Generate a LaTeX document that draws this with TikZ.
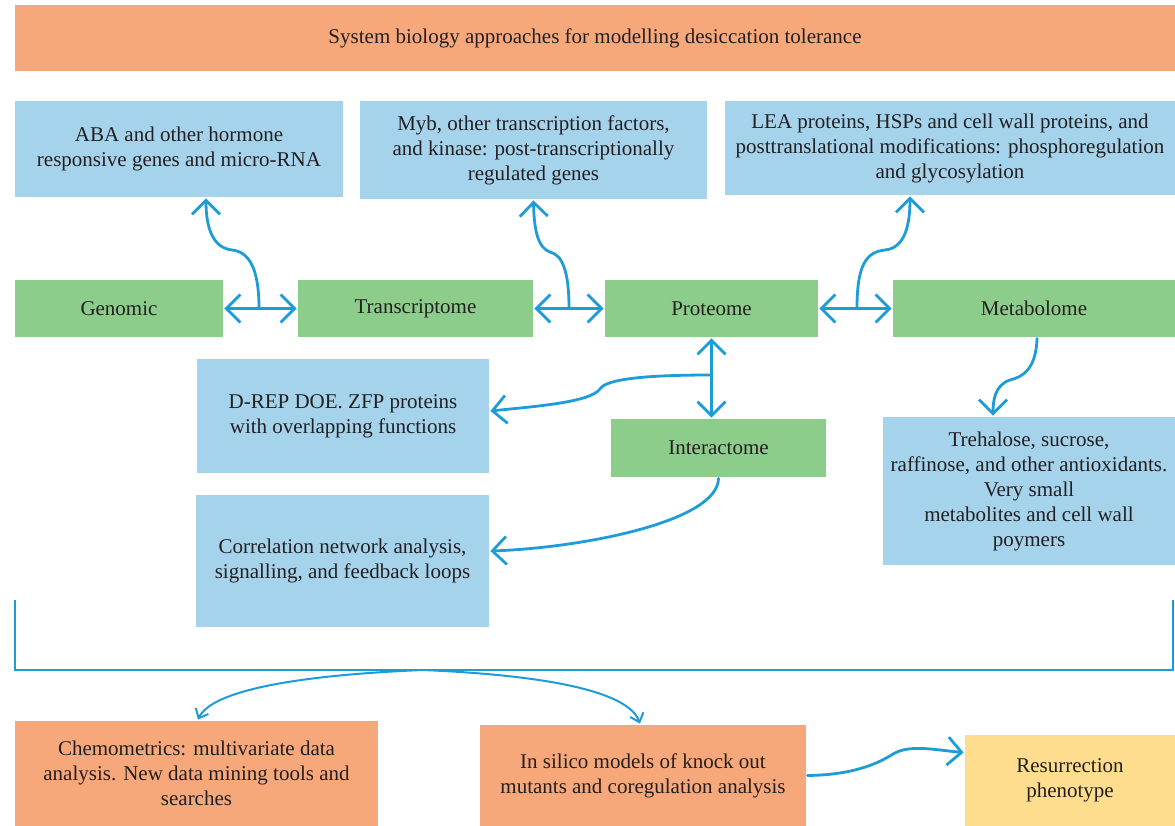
\documentclass[tikz,border=0pt]{standalone}
\usepackage{fontspec}
\setmainfont{Liberation Serif}
\usetikzlibrary{arrows.meta}
\definecolor{boxorange}{HTML}{F7A87B}
\definecolor{boxgreen}{HTML}{8CCD8C}
\definecolor{boxblue}{HTML}{A5D3EC}
\definecolor{boxyellow}{HTML}{FEDD8E}
\definecolor{linkblue}{HTML}{1E9CD7}
\definecolor{inkgray}{HTML}{231F20}
\tikzset{
  box/.style={rectangle,inner sep=0pt,align=center,text=inkgray,
    font=\fontsize{21bp}{25bp}\selectfont},
  orangebox/.style={box,fill=boxorange},
  greenbox/.style={box,fill=boxgreen},
  bluebox/.style={box,fill=boxblue},
  yellowbox/.style={box,fill=boxyellow},
}
\begin{document}
\begin{tikzpicture}[x=1bp,y=-1bp,>={Straight Barb[length=14bp,width=28bp]},
  line width=2.8bp,line cap=round,draw=linkblue]
    \useasboundingbox (0,0) rectangle (1175,826);
    %%
    \node (title) at (595.0,38.0) [orangebox,minimum width=1160bp,minimum height=66bp] {System biology approaches for modelling desiccation tolerance};
    \node (aba) at (179.0,149.0) [bluebox,minimum width=328bp,minimum height=96bp] {ABA and other hormone\\responsive genes and micro-RNA};
    \node (myb) at (533.5,150.0) [bluebox,minimum width=347bp,minimum height=98bp] {Myb, other transcription factors,\\and kinase: post-transcriptionally\\regulated genes};
    \node (lea) at (950.0,148.0) [bluebox,minimum width=450bp,minimum height=94bp] {LEA proteins, HSPs and cell wall proteins, and\\posttranslational modifications: phosphoregulation\\and glycosylation};
    \node (genomic) at (119.0,308.5) [greenbox,minimum width=208bp,minimum height=57bp] {Genomic};
    \node (transcriptome) at (415.5,308.5) [greenbox,minimum width=235bp,minimum height=57bp] {Transcriptome};
    \node (proteome) at (711.5,308.5) [greenbox,minimum width=213bp,minimum height=57bp] {Proteome};
    \node (metabolome) at (1034.0,308.5) [greenbox,minimum width=282bp,minimum height=57bp] {Metabolome};
    \node (drep) at (343.0,416.0) [bluebox,minimum width=292bp,minimum height=114bp] {D-REP DOE. ZFP proteins\\with overlapping functions};
    \node (interactome) at (718.5,448.0) [greenbox,minimum width=215bp,minimum height=58bp] {Interactome};
    \node (corr) at (342.5,561.0) [bluebox,minimum width=293bp,minimum height=132bp] {Correlation network analysis,\\signalling, and feedback loops};
    \node (treh) at (1029.0,491.0) [bluebox,minimum width=292bp,minimum height=148bp] {Trehalose, sucrose,\\raffinose, and other antioxidants.\\Very small\\metabolites and cell wall\\poymers};
    \node (chemo) at (196.5,773.5) [orangebox,minimum width=363bp,minimum height=105bp] {Chemometrics: multivariate data\\analysis. New data mining tools and\\searches};
    \node (insilico) at (643.0,775.5) [orangebox,minimum width=326bp,minimum height=101bp] {In silico models of knock out\\mutants and coregulation analysis};
    \node (resur) at (1070.0,780.5) [yellowbox,minimum width=210bp,minimum height=91bp] {Resurrection\\phenotype};
    %%
    \coordinate (gt) at (259.0,308.5);
    \coordinate (tp) at (569.0,308.5);
    \coordinate (pm) at (857.0,308.5);
    \coordinate (pi) at (711.5,375.0);
    \coordinate (brL) at (15.0,600.0);
    \coordinate (brR) at (1173.0,600.0);
    \coordinate (brC) at (423.0,670.0);
    %%
    \draw [<->] (genomic) -- (transcriptome);
    \draw [<->] (transcriptome) -- (proteome);
    \draw [<->] (proteome) -- (metabolome);
    \draw [<->] (proteome.south) -- (proteome.south |- interactome.north);
    \draw [->] (gt) ..controls (259.0,270.0) and (250.0,252.0) .. (232.0,250.0) ..controls (214.0,248.0) and (206.0,230.0) .. ([xshift=27bp]aba.south);
    \draw [->] (tp) ..controls (569.0,270.0) and (562.0,255.0) .. (550.0,252.0) ..controls (538.0,248.0) and (534.0,230.0) .. (myb.south);
    \draw [->] (pm) ..controls (857.0,265.0) and (866.0,252.0) .. (885.0,250.0) ..controls (905.0,248.0) and (910.0,225.0) .. ([xshift=-40bp]lea.south);
    \draw [->] (pi) ..controls (645.0,375.0) and (606.0,379.0) .. (600.0,389.0) ..controls (590.0,402.0) and (540.0,406.0) .. ([yshift=5bp]drep.east);
    \draw [->] (interactome.south) ..controls (718.0,522.0) and (580.0,548.0) .. ([yshift=10bp]corr.east);
    \draw [->] ([xshift=3bp]metabolome.south) ..controls (1036.0,370.0) and (1022.0,377.0) .. (1010.0,380.0) ..controls (995.0,385.0) and (993.0,400.0) .. ([xshift=-36bp]treh.north);
    %%
    \draw [line cap=butt,line width=2.2bp] (brL) -- (brL |- brC) -- (brR |- brC) -- (brR);
    \draw [->,line width=2bp,>={Straight Barb[length=8bp,width=14bp]}] (brC) ..controls (300.0,675.0) and (212.0,690.0) .. ([xshift=1.5bp]chemo.north);
    \draw [->,line width=2bp,>={Straight Barb[length=8bp,width=14bp]}] (brC) ..controls (540.0,675.0) and (628.0,690.0) .. ([xshift=-3bp]insilico.north);
    \draw [->] (insilico.east) ..controls (850.0,775.0) and (876.0,765.0) .. (893.0,754.0) ..controls (910.0,744.0) and (935.0,750.0) .. ([yshift=28bp]resur.west);
    %
\end{tikzpicture}
\end{document}
